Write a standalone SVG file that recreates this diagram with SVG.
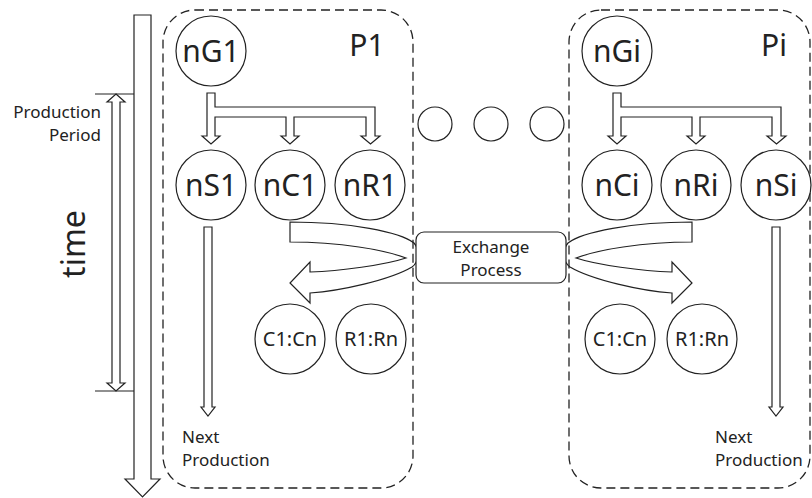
<svg xmlns="http://www.w3.org/2000/svg" width="812" height="498" viewBox="0 0 812 498">
<defs>
<style>
.ln{fill:#fff;stroke:#222;stroke-width:1.2;stroke-linejoin:miter}
.nd{fill:#fff;stroke:#222;stroke-width:1.2}
.box{fill:none;stroke:#222;stroke-width:1.3;stroke-dasharray:9,5}
.t{font-family:"Noto Sans","DejaVu Sans",sans-serif;fill:#222}
.big{font-size:30px;text-anchor:middle}
.mid{font-size:20px;text-anchor:middle}
.sm{font-size:17px}
</style>
<path id="branch" class="ln" d="M207,93 L215,93 L215,107 L375,107 L375,136 L380,136 L370.5,144 L361,136 L366,136 L366,117 L294,117 L294,136 L299,136 L290,144 L281,136 L286,136 L286,117 L215,117 L215,136 L220,136 L211,144 L202,136 L207,136 Z"/>
<path id="curve" class="ln" d="M290,222 C350,222 400,232 414,243 C420,250 419,262 412,267 C390,280 340,291 310,293 L310,303 L290,283 L310,262 L310,272 C340,271 385,265 406,258 C385,250 340,242 290,242 Z"/>
</defs>
<rect width="812" height="498" fill="#fff"/>

<g id="time-axis">
<path class="ln" d="M134,15 L151,15 L151,479 L160,479 L142.5,497 L125,479 L134,479 Z"/>
<text class="t" font-size="32" text-anchor="middle" transform="translate(85,244) rotate(-90)">time</text>
</g>

<g id="production-period">
<line x1="95" y1="94" x2="134" y2="94" stroke="#222" stroke-width="1.2"/>
<line x1="95" y1="391" x2="134" y2="391" stroke="#222" stroke-width="1.2"/>
<path class="ln" d="M116,94 L125,102 L120,102 L120,383 L125,383 L116,391 L107,383 L112,383 L112,102 L107,102 Z"/>
<text class="t sm" text-anchor="end" x="101" y="118">Production</text>
<text class="t sm" text-anchor="end" x="101" y="141">Period</text>
</g>

<g id="connectors">
<use href="#branch"/>
<use href="#branch" transform="translate(406,0)"/>
<path class="ln" d="M204,227 L212,227 L212,407 L215,407 L208,416 L201,407 L204,407 Z"/>
<path class="ln" d="M772,227 L780,227 L780,407 L783,407 L776,416 L769,407 L772,407 Z"/>
<use href="#curve"/>
<use href="#curve" transform="translate(982,0) scale(-1,1)"/>
</g>

<g id="P1">
<rect class="box" x="163" y="10" width="250" height="478" rx="32" ry="32"/>
<text class="t big" x="367" y="56">P1</text>
</g>
<g id="Pi">
<rect class="box" x="569" y="10" width="241" height="478" rx="32" ry="32"/>
<text class="t big" x="774" y="56">Pi</text>
</g>

<g id="nG1"><circle class="nd" cx="211" cy="51" r="35"/><text class="t big" x="211" y="62">nG1</text></g>
<g id="nS1"><circle class="nd" cx="211" cy="185" r="35"/><text class="t big" x="211" y="196">nS1</text></g>
<g id="nC1"><circle class="nd" cx="290" cy="185" r="35"/><text class="t big" x="290" y="196">nC1</text></g>
<g id="nR1"><circle class="nd" cx="370" cy="185" r="35"/><text class="t big" x="370" y="196">nR1</text></g>

<g id="nGi"><circle class="nd" cx="617" cy="51" r="35"/><text class="t big" x="617" y="62">nGi</text></g>
<g id="nCi"><circle class="nd" cx="617" cy="185" r="35"/><text class="t big" x="617" y="196">nCi</text></g>
<g id="nRi"><circle class="nd" cx="696" cy="185" r="35"/><text class="t big" x="696" y="196">nRi</text></g>
<g id="nSi"><circle class="nd" cx="776" cy="185" r="35"/><text class="t big" x="776" y="196">nSi</text></g>

<g id="dots">
<circle class="nd" cx="435" cy="124" r="17"/>
<circle class="nd" cx="491" cy="124" r="17"/>
<circle class="nd" cx="547" cy="124" r="17"/>
</g>

<g id="C1Cn-1"><circle class="nd" cx="290" cy="339" r="35"/><text class="t mid" x="290" y="346">C1:Cn</text></g>
<g id="R1Rn-1"><circle class="nd" cx="371" cy="339" r="35"/><text class="t mid" x="371" y="346">R1:Rn</text></g>
<g id="C1Cn-i"><circle class="nd" cx="620" cy="339" r="35"/><text class="t mid" x="620" y="346">C1:Cn</text></g>
<g id="R1Rn-i"><circle class="nd" cx="702" cy="339" r="35"/><text class="t mid" x="702" y="346">R1:Rn</text></g>

<g id="exchange">
<rect class="nd" x="416" y="232" width="150" height="51" rx="8" ry="8"/>
<text class="t sm" text-anchor="middle" x="491" y="253">Exchange</text>
<text class="t sm" text-anchor="middle" x="491" y="276">Process</text>
</g>

<g id="next-1">
<text class="t sm" x="182" y="443">Next</text>
<text class="t sm" x="182" y="466">Production</text>
</g>
<g id="next-i">
<text class="t sm" x="715" y="443">Next</text>
<text class="t sm" x="715" y="466">Production</text>
</g>
</svg>
